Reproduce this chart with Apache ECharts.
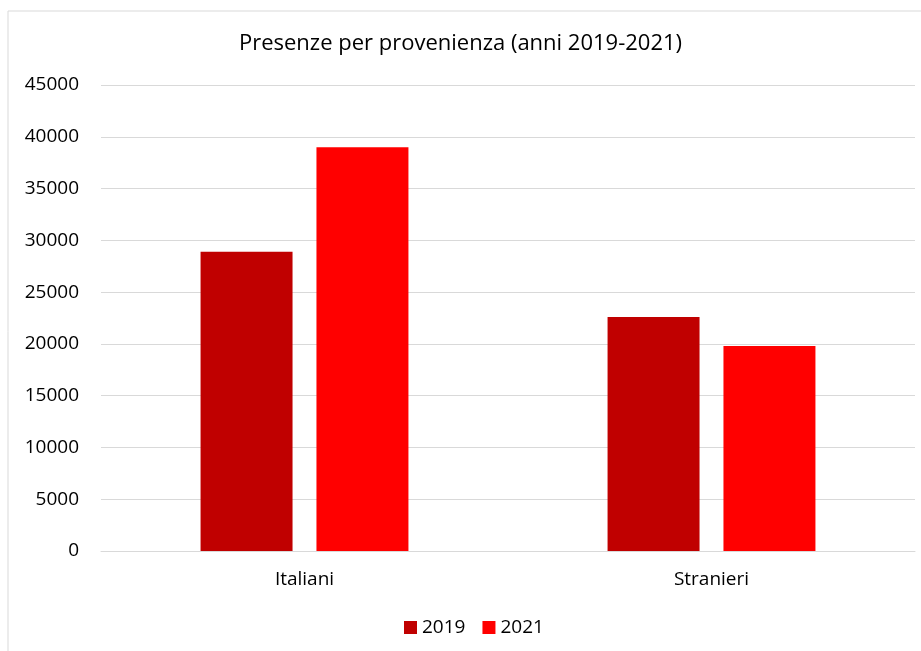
<!DOCTYPE html>
<html>
<head>
<meta charset="utf-8">
<script src="https://cdn.jsdelivr.net/npm/echarts@6/dist/echarts.min.js"></script>
<style>
  html, body { margin: 0; padding: 0; background: #fff; }
  #main { width: 921px; height: 651px; }
</style>
</head>
<body>
<div id="main"></div>
<script>
const categories = ['Italiani', 'Stranieri'];
const values2019 = [28900, 22600];
const values2021 = [39000, 19800];
const seriesNames = ['2019', '2021'];

const chart = echarts.init(document.getElementById('main'));
const font = 'Open Sans';

chart.setOption({
  backgroundColor: '#fff',
  animation: false,
  graphic: [{
    type: 'rect',
    shape: { x: 8, y: 11, width: 930, height: 660 },
    style: { fill: 'none', stroke: '#d9d9d9', lineWidth: 1 },
    silent: true
  }],
  title: {
    text: 'Presenze per provenienza (anni 2019-2021)',
    left: 'center',
    top: 28,
    textStyle: { fontFamily: font, fontSize: 22, fontWeight: 'normal', color: '#000' }
  },
  legend: {
    data: seriesNames,
    top: 613,
    left: 399,
    itemWidth: 13,
    itemHeight: 13,
    itemGap: 17,
    icon: 'rect',
    textStyle: { fontFamily: font, fontSize: 19, color: '#000' }
  },
  grid: { left: 101, right: 6, top: 85, bottom: 100 },
  xAxis: {
    type: 'category',
    data: categories,
    axisTick: { show: false },
    axisLine: { show: true, lineStyle: { color: '#d9d9d9' } },
    axisLabel: { margin: 19, fontFamily: font, fontSize: 19, color: '#000' }
  },
  yAxis: {
    type: 'value',
    min: 0,
    max: 45000,
    interval: 5000,
    axisLine: { show: false },
    axisTick: { show: false },
    splitLine: { lineStyle: { color: '#d9d9d9' } },
    axisLabel: {
      margin: 22, fontFamily: font, fontSize: 19, color: '#000',
      formatter: v => String(v)
    }
  },
  series: [{
    name: seriesNames[0],
    type: 'bar',
    data: values2019,
    barWidth: '22.6%',
    barGap: '26%',
    itemStyle: { color: '#c00000' }
  }, {
    name: seriesNames[1],
    type: 'bar',
    data: values2021,
    barWidth: '22.6%',
    itemStyle: { color: '#ff0000' }
  }]
});
</script>
</body>
</html>
